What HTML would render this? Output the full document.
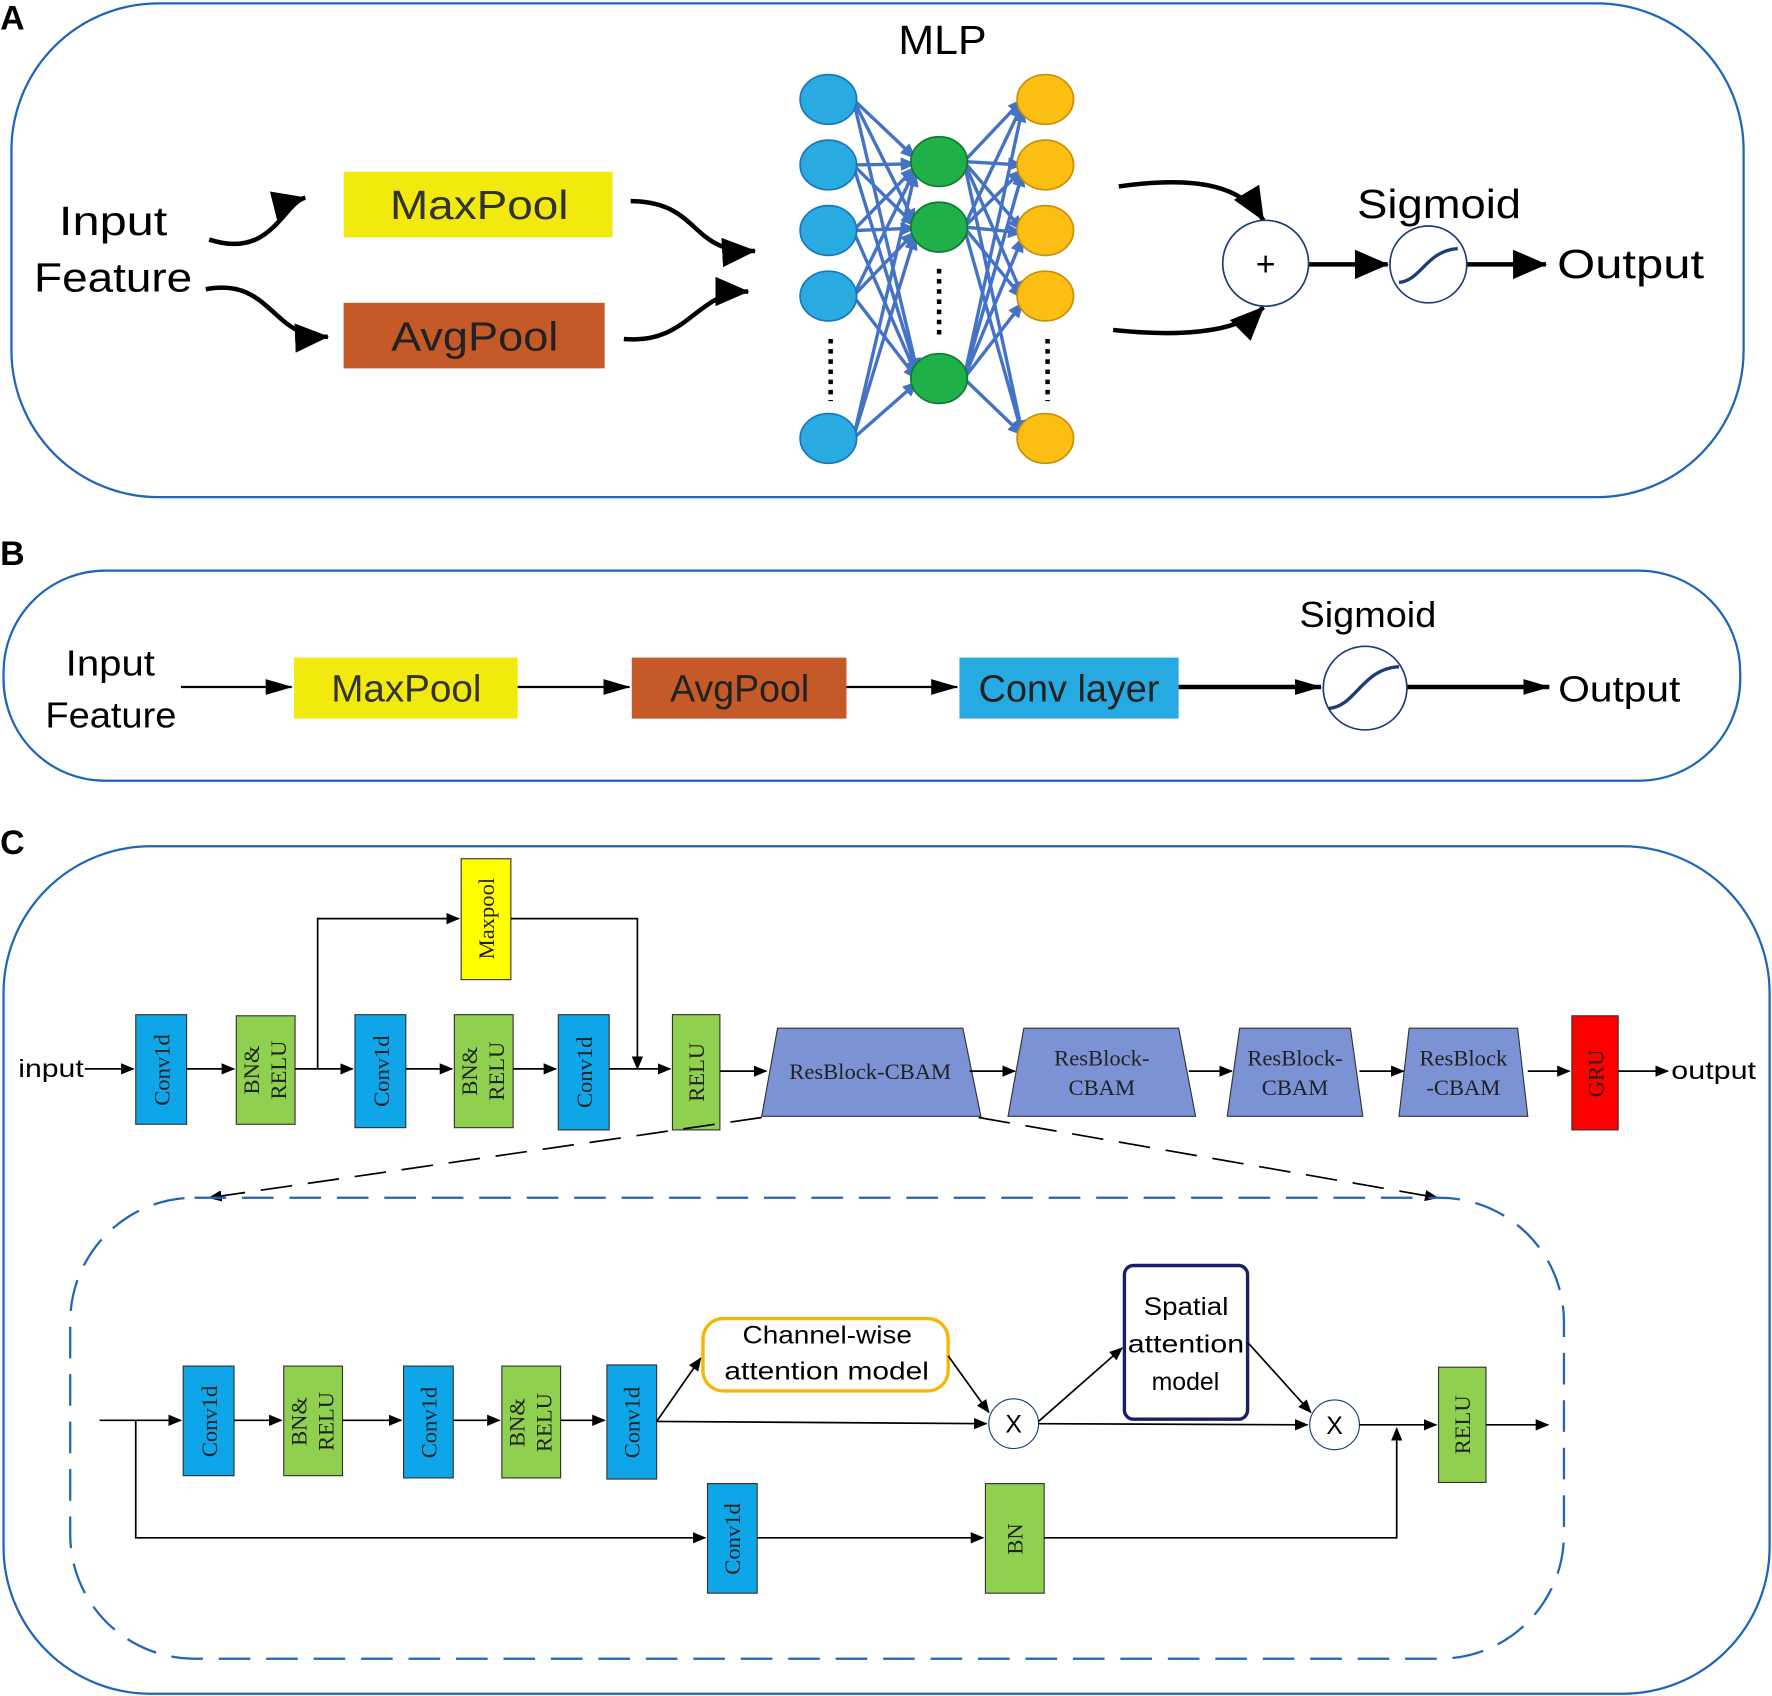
<!DOCTYPE html>
<html><head><meta charset="utf-8"><style>html,body{margin:0;padding:0;background:#fff}svg{display:block}</style></head><body>
<svg width="1772" height="1696" viewBox="0 0 1568 1501" xmlns="http://www.w3.org/2000/svg" font-family="Liberation Sans, DejaVu Sans, sans-serif">
<defs>
<marker id="ab" markerWidth="12" markerHeight="12" refX="11" refY="6" orient="auto" markerUnits="userSpaceOnUse" viewBox="0 0 12 12"><path d="M0,1 L12,6 L0,11z" fill="#000"/></marker>
<marker id="abig" markerWidth="30" markerHeight="26" refX="29" refY="13" orient="auto" markerUnits="userSpaceOnUse" viewBox="0 0 30 26"><path d="M0,0 L30,13 L0,26z" fill="#000"/></marker>
<marker id="abl" markerWidth="14" markerHeight="12" refX="13" refY="6" orient="auto" markerUnits="userSpaceOnUse" viewBox="0 0 14 12"><path d="M0,0 L14,6 L0,12z" fill="#4472c4"/></marker>
<marker id="ad" markerWidth="24" markerHeight="14" refX="23" refY="7" orient="auto" markerUnits="userSpaceOnUse" viewBox="0 0 24 14"><path d="M0,0 L24,7 L0,14z" fill="#000"/></marker>
</defs>
<rect width="1568" height="1501" fill="#fff"/>
<!-- Panel A -->
<text x="0" y="26" font-size="30" font-weight="bold">A</text>
<rect x="10" y="3" width="1533" height="437" rx="130" fill="none" stroke="#1f66b8" stroke-width="2"/>
<text x="52" y="208" font-size="36" textLength="96" lengthAdjust="spacingAndGlyphs">Input</text>
<text x="30" y="258" font-size="36" textLength="140" lengthAdjust="spacingAndGlyphs">Feature</text>
<rect x="304" y="152" width="238" height="58" fill="#f2ea0c"/><text x="345" y="194" font-size="36" fill="#333" textLength="158" lengthAdjust="spacingAndGlyphs">MaxPool</text>
<rect x="304" y="268" width="231" height="58" fill="#c55a28"/><text x="346" y="310" font-size="36" fill="#222" textLength="148" lengthAdjust="spacingAndGlyphs">AvgPool</text>
<g fill="none" stroke="#000" stroke-width="4">
<path d="M185,212 C240,230 250,180 270,175" marker-end="url(#abig)"/>
<path d="M182,256 C240,245 240,300 290,298" marker-end="url(#abig)"/>
<path d="M558,178 C620,178 610,225 668,222" marker-end="url(#abig)"/>
<path d="M552,300 C610,305 615,258 662,258" marker-end="url(#abig)"/>
<path d="M990,165 C1060,155 1100,165 1118,195" marker-end="url(#abig)"/>
<path d="M985,292 C1060,300 1100,290 1118,272" marker-end="url(#abig)"/>
<path d="M1158,234 L1228,234" marker-end="url(#abig)"/>
<path d="M1298,234 L1368,234" marker-end="url(#abig)"/>
</g>
<text x="795" y="48" font-size="36" textLength="78" lengthAdjust="spacingAndGlyphs">MLP</text>
<g stroke="#4472c4" stroke-width="3" fill="none">
<path d="M755,88 L810,140" marker-end="url(#abl)"/><path d="M755,88 L810,198" marker-end="url(#abl)"/><path d="M755,88 L812,330" marker-end="url(#abl)"/>
<path d="M755,146 L810,145" marker-end="url(#abl)"/><path d="M755,146 L810,200" marker-end="url(#abl)"/><path d="M755,146 L812,332" marker-end="url(#abl)"/>
<path d="M755,204 L810,148" marker-end="url(#abl)"/><path d="M755,204 L810,202" marker-end="url(#abl)"/><path d="M755,204 L812,334" marker-end="url(#abl)"/>
<path d="M755,262 L810,150" marker-end="url(#abl)"/><path d="M755,262 L810,205" marker-end="url(#abl)"/><path d="M755,262 L812,336" marker-end="url(#abl)"/>
<path d="M755,388 L810,152" marker-end="url(#abl)"/><path d="M755,388 L810,208" marker-end="url(#abl)"/><path d="M755,388 L812,338" marker-end="url(#abl)"/>
<path d="M853,143 L905,88" marker-end="url(#abl)"/><path d="M853,143 L905,146" marker-end="url(#abl)"/><path d="M853,143 L905,204" marker-end="url(#abl)"/><path d="M853,143 L905,262" marker-end="url(#abl)"/><path d="M853,143 L905,385" marker-end="url(#abl)"/>
<path d="M853,201 L905,92" marker-end="url(#abl)"/><path d="M853,201 L905,150" marker-end="url(#abl)"/><path d="M853,201 L905,206" marker-end="url(#abl)"/><path d="M853,201 L905,264" marker-end="url(#abl)"/><path d="M853,201 L905,386" marker-end="url(#abl)"/>
<path d="M853,335 L905,95" marker-end="url(#abl)"/><path d="M853,335 L905,152" marker-end="url(#abl)"/><path d="M853,335 L905,210" marker-end="url(#abl)"/><path d="M853,335 L905,268" marker-end="url(#abl)"/><path d="M853,335 L905,385" marker-end="url(#abl)"/>
</g>
<g fill="#29abe2" stroke="#1b75bb" stroke-width="1.5">
<ellipse cx="733" cy="88" rx="25" ry="22"/><ellipse cx="733" cy="146" rx="25" ry="22"/><ellipse cx="733" cy="204" rx="25" ry="22"/><ellipse cx="733" cy="262" rx="25" ry="22"/><ellipse cx="733" cy="388" rx="25" ry="22"/></g>
<g fill="#1fb04a" stroke="#117a30" stroke-width="1.5">
<ellipse cx="831" cy="143" rx="25" ry="22"/><ellipse cx="831" cy="201" rx="25" ry="22"/><ellipse cx="831" cy="335" rx="25" ry="22"/></g>
<g fill="#fbbf14" stroke="#c8900a" stroke-width="1.5">
<ellipse cx="925" cy="88" rx="25" ry="22"/><ellipse cx="925" cy="146" rx="25" ry="22"/><ellipse cx="925" cy="204" rx="25" ry="22"/><ellipse cx="925" cy="262" rx="25" ry="22"/><ellipse cx="925" cy="388" rx="25" ry="22"/></g>
<g stroke="#000" stroke-width="4" stroke-dasharray="4,5"><path d="M735,300 V355"/><path d="M831,238 V298"/><path d="M927,300 V355"/></g>
<circle cx="1120" cy="233" r="38" fill="#fff" stroke="#1f3c78" stroke-width="1.5"/><text x="1120" y="244" font-size="30" text-anchor="middle">+</text>
<text x="1201" y="193" font-size="36" textLength="145" lengthAdjust="spacingAndGlyphs">Sigmoid</text>
<circle cx="1264" cy="234" r="34" fill="#fff" stroke="#1f3c78" stroke-width="1.5"/>
<path d="M1238,250 C1258,248 1262,222 1290,220" fill="none" stroke="#1f3c78" stroke-width="3"/>
<text x="1378" y="246" font-size="36" textLength="130" lengthAdjust="spacingAndGlyphs">Output</text>
<!-- Panel B -->
<text x="0" y="500" font-size="30" font-weight="bold">B</text>
<rect x="3" y="505" width="1537" height="186" rx="90" fill="none" stroke="#1f66b8" stroke-width="2"/>
<text x="58" y="598" font-size="32" textLength="79" lengthAdjust="spacingAndGlyphs">Input</text>
<text x="40" y="644" font-size="32" textLength="116" lengthAdjust="spacingAndGlyphs">Feature</text>
<rect x="260" y="582" width="198" height="54" fill="#f2ea0c"/><text x="293" y="621" font-size="34" fill="#333" textLength="133" lengthAdjust="spacingAndGlyphs">MaxPool</text>
<rect x="559" y="582" width="190" height="54" fill="#c55a28"/><text x="593" y="621" font-size="34" fill="#222" textLength="123" lengthAdjust="spacingAndGlyphs">AvgPool</text>
<rect x="849" y="582" width="194" height="54" fill="#27a9e1"/><text x="866" y="621" font-size="34" fill="#222" textLength="160" lengthAdjust="spacingAndGlyphs">Conv layer</text>
<g stroke="#000" fill="none">
<path d="M160,608 H258" stroke-width="2" marker-end="url(#ad)"/>
<path d="M458,608 H557" stroke-width="2" marker-end="url(#ad)"/>
<path d="M749,608 H847" stroke-width="2" marker-end="url(#ad)"/>
<path d="M1043,608 H1169" stroke-width="4" marker-end="url(#ad)"/>
<path d="M1245,608 H1371" stroke-width="4" marker-end="url(#ad)"/>
</g>
<text x="1150" y="555" font-size="32" textLength="121" lengthAdjust="spacingAndGlyphs">Sigmoid</text>
<circle cx="1208" cy="609" r="37" fill="#fff" stroke="#1f3c78" stroke-width="1.5"/>
<path d="M1176,627 C1200,625 1205,592 1238,590" fill="none" stroke="#1f3c78" stroke-width="3"/>
<text x="1379" y="621" font-size="32" textLength="108" lengthAdjust="spacingAndGlyphs">Output</text>
<!-- Panel C -->
<text x="0" y="756" font-size="30" font-weight="bold">C</text>
<rect x="3" y="749" width="1563" height="750" rx="130" fill="none" stroke="#1f66b8" stroke-width="2"/>
<g font-family="Liberation Serif, serif" font-size="20" fill="#222">
<g stroke="#333" stroke-width="1">
<rect x="120" y="898" width="45" height="97" fill="#0ea5e9"/>
<rect x="209" y="899" width="52" height="96" fill="#8fd14f"/>
<rect x="314" y="898" width="45" height="100" fill="#0ea5e9"/>
<rect x="402" y="898" width="52" height="100" fill="#8fd14f"/>
<rect x="494" y="898" width="45" height="102" fill="#0ea5e9"/>
<rect x="595" y="898" width="42" height="102" fill="#8fd14f"/>
<rect x="408" y="760" width="44" height="107" fill="#ffff00"/>
<path d="M688,910 H852 L868,988 H674 Z" fill="#7b93d4"/>
<path d="M906,910 H1043 L1058,988 H892 Z" fill="#7b93d4"/>
<path d="M1097,910 H1195 L1206,988 H1086 Z" fill="#7b93d4"/>
<path d="M1247,910 H1343 L1352,988 H1238 Z" fill="#7b93d4"/>
<rect x="1391" y="899" width="41" height="101" fill="#ff0000"/>
</g>
<text transform="translate(150,947) rotate(-90)" text-anchor="middle">Conv1d</text>
<text transform="translate(229,947) rotate(-90)" text-anchor="middle">BN&amp;</text>
<text transform="translate(253,947) rotate(-90)" text-anchor="middle">RELU</text>
<text transform="translate(344,948) rotate(-90)" text-anchor="middle">Conv1d</text>
<text transform="translate(422,948) rotate(-90)" text-anchor="middle">BN&amp;</text>
<text transform="translate(446,948) rotate(-90)" text-anchor="middle">RELU</text>
<text transform="translate(524,949) rotate(-90)" text-anchor="middle">Conv1d</text>
<text transform="translate(623,949) rotate(-90)" text-anchor="middle">RELU</text>
<text transform="translate(437,813) rotate(-90)" text-anchor="middle">Maxpool</text>
<text transform="translate(1419,950) rotate(-90)" text-anchor="middle">GRU</text>
<text x="770" y="955" text-anchor="middle">ResBlock-CBAM</text>
<text x="975" y="943" text-anchor="middle">ResBlock-</text><text x="975" y="969" text-anchor="middle">CBAM</text>
<text x="1146" y="943" text-anchor="middle">ResBlock-</text><text x="1146" y="969" text-anchor="middle">CBAM</text>
<text x="1295" y="943" text-anchor="middle">ResBlock</text><text x="1295" y="969" text-anchor="middle">-CBAM</text>
</g>
<text x="16" y="953" font-size="22" textLength="58" lengthAdjust="spacingAndGlyphs">input</text>
<text x="1479" y="955" font-size="22" textLength="75" lengthAdjust="spacingAndGlyphs">output</text>
<g stroke="#000" stroke-width="1.5" fill="none">
<path d="M75,946 H118" marker-end="url(#ab)"/>
<path d="M165,946 H207" marker-end="url(#ab)"/>
<path d="M261,946 H312" marker-end="url(#ab)"/>
<path d="M281,946 V813 H406" marker-end="url(#ab)"/>
<path d="M452,813 H564 V946" marker-end="url(#ab)"/>
<path d="M359,946 H400" marker-end="url(#ab)"/>
<path d="M454,946 H492" marker-end="url(#ab)"/>
<path d="M539,946 H593" marker-end="url(#ab)"/>
<path d="M637,948 H678" marker-end="url(#ab)"/>
<path d="M858,948 H898" marker-end="url(#ab)"/>
<path d="M1052,948 H1090" marker-end="url(#ab)"/>
<path d="M1203,948 H1242" marker-end="url(#ab)"/>
<path d="M1352,948 H1389" marker-end="url(#ab)"/>
<path d="M1432,948 H1476" marker-end="url(#ab)"/>
</g>
<g stroke="#000" stroke-width="1.5" fill="none" stroke-dasharray="28,14">
<path d="M674,989 L185,1060" marker-end="url(#ab)"/>
<path d="M866,989 L1272,1060" marker-end="url(#ab)"/>
</g>
<rect x="62" y="1060" width="1322" height="408" rx="110" fill="none" stroke="#1f66b8" stroke-width="2" stroke-dasharray="28,14"/>
<g font-family="Liberation Serif, serif" font-size="20" fill="#222">
<g stroke="#333" stroke-width="1">
<rect x="162" y="1209" width="45" height="97" fill="#0ea5e9"/>
<rect x="251" y="1209" width="52" height="97" fill="#8fd14f"/>
<rect x="357" y="1209" width="44" height="99" fill="#0ea5e9"/>
<rect x="444" y="1209" width="52" height="99" fill="#8fd14f"/>
<rect x="537" y="1208" width="44" height="101" fill="#0ea5e9"/>
<rect x="1273" y="1210" width="42" height="102" fill="#8fd14f"/>
<rect x="626" y="1313" width="44" height="97" fill="#0ea5e9"/>
<rect x="872" y="1313" width="52" height="97" fill="#8fd14f"/>
</g>
<text transform="translate(192,1258) rotate(-90)" text-anchor="middle">Conv1d</text>
<text transform="translate(271,1258) rotate(-90)" text-anchor="middle">BN&amp;</text>
<text transform="translate(295,1258) rotate(-90)" text-anchor="middle">RELU</text>
<text transform="translate(386,1259) rotate(-90)" text-anchor="middle">Conv1d</text>
<text transform="translate(464,1259) rotate(-90)" text-anchor="middle">BN&amp;</text>
<text transform="translate(488,1259) rotate(-90)" text-anchor="middle">RELU</text>
<text transform="translate(566,1259) rotate(-90)" text-anchor="middle">Conv1d</text>
<text transform="translate(1301,1261) rotate(-90)" text-anchor="middle">RELU</text>
<text transform="translate(655,1362) rotate(-90)" text-anchor="middle">Conv1d</text>
<text transform="translate(905,1362) rotate(-90)" text-anchor="middle">BN</text>
</g>
<rect x="622" y="1167" width="217" height="64" rx="18" fill="#fff" stroke="#f5b800" stroke-width="3"/>
<text x="657" y="1189" font-size="22" textLength="150" lengthAdjust="spacingAndGlyphs">Channel-wise</text>
<text x="641" y="1221" font-size="22" textLength="181" lengthAdjust="spacingAndGlyphs">attention model</text>
<rect x="995" y="1120" width="109" height="136" rx="8" fill="#fff" stroke="#1a1f6b" stroke-width="3"/>
<text x="1012" y="1164" font-size="22" textLength="75" lengthAdjust="spacingAndGlyphs">Spatial</text>
<text x="998" y="1197" font-size="22" textLength="103" lengthAdjust="spacingAndGlyphs">attention</text>
<text x="1049" y="1230" font-size="22" text-anchor="middle">model</text>
<circle cx="897" cy="1260" r="22" fill="#fff" stroke="#1a3c78" stroke-width="1"/><text x="897" y="1268" font-size="22" text-anchor="middle">X</text>
<circle cx="1181" cy="1261" r="22" fill="#fff" stroke="#1a3c78" stroke-width="1"/><text x="1181" y="1269" font-size="22" text-anchor="middle">X</text>
<g stroke="#000" stroke-width="1.5" fill="none">
<path d="M88,1257 H160" marker-end="url(#ab)"/>
<path d="M207,1257 H249" marker-end="url(#ab)"/>
<path d="M303,1257 H355" marker-end="url(#ab)"/>
<path d="M401,1257 H442" marker-end="url(#ab)"/>
<path d="M496,1257 H535" marker-end="url(#ab)"/>
<path d="M581,1258 L620,1202" marker-end="url(#ab)"/>
<path d="M581,1258 L873,1260" marker-end="url(#ab)"/>
<path d="M839,1200 L875,1250" marker-end="url(#ab)"/>
<path d="M919,1258 L993,1193" marker-end="url(#ab)"/>
<path d="M919,1260 L1157,1261" marker-end="url(#ab)"/>
<path d="M1104,1188 L1160,1250" marker-end="url(#ab)"/>
<path d="M1203,1261 L1271,1261" marker-end="url(#ab)"/>
<path d="M1315,1261 H1370" marker-end="url(#ab)"/>
<path d="M120,1257 V1361 H624" marker-end="url(#ab)"/>
<path d="M670,1361 H870" marker-end="url(#ab)"/>
<path d="M924,1361 H1236 V1264" marker-end="url(#ab)"/>
</g>
</svg>
</body></html>
